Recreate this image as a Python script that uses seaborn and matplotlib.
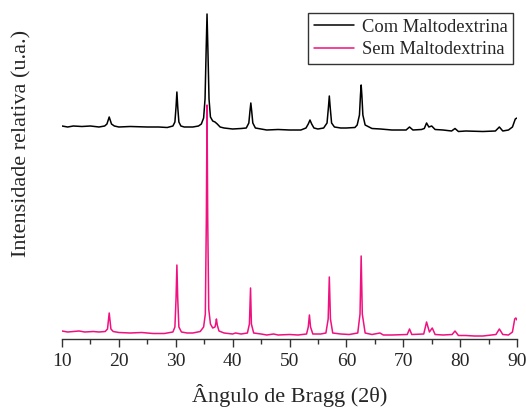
"""XRD patterns: with and without maltodextrin."""

import matplotlib
matplotlib.use('Agg')
import matplotlib.pyplot as plt
import seaborn as sns
from matplotlib.ticker import MultipleLocator

sns.set_theme(style="ticks")
plt.rcParams['font.family'] = ['Liberation Serif', 'DejaVu Serif']

# Com Maltodextrina (upper trace): 2theta and relative intensity (u.a.)
com_x = [10.0, 11.0, 12.0, 13.5, 15.0, 16.5, 17.5, 17.9, 18.3, 18.7, 19.2, 20.0,
         22.0, 25.0, 27.0, 28.5, 29.5, 29.85, 30.05, 30.2, 30.35, 30.55, 30.9, 31.5,
         33.0, 34.0, 34.5, 34.9, 35.15, 35.35, 35.5, 35.65, 35.85, 36.1, 36.5, 36.9,
         37.3, 37.8, 38.5, 40.0, 41.5, 42.4, 42.85, 43.05, 43.2, 43.35, 43.55, 44.0,
         45.0, 46.0, 48.0, 50.0, 52.0, 52.9, 53.3, 53.6, 53.9, 54.3, 55.0, 56.0,
         56.6, 56.85, 57.0, 57.15, 57.4, 57.9, 59.0, 60.0, 61.5, 61.9, 62.3, 62.48,
         62.6, 62.72, 62.9, 63.3, 64.5, 66.0, 68.0, 70.5, 71.1, 71.7, 73.2, 73.7,
         74.1, 74.5, 75.0, 75.6, 77.0, 78.5, 79.1, 79.7, 81.0, 84.0, 86.2, 86.9,
         87.5, 88.5, 89.2, 89.7, 90.0]
com_y = [213, 212, 213, 212.5, 213, 212, 213, 215, 222, 215, 213, 212,
         212.5, 212, 212, 211.5, 213, 217, 232, 247, 232, 217, 213, 212,
         212, 213, 215, 221, 240, 290, 325, 290, 240, 222, 218, 217,
         215, 212, 211, 210, 210.5, 211, 216, 228, 236, 228, 216, 211,
         210, 209, 209.5, 209, 209, 211, 215, 219, 215, 211, 210, 211,
         216, 232, 243, 232, 216, 212, 211, 211, 211.5, 214, 224, 244,
         254, 244, 224, 214, 210.5, 210, 209, 209, 212, 209, 209.5, 210.5,
         216, 212, 213, 209.5, 209, 208, 210.5, 207.5, 208, 207.5, 208, 212,
         208, 209, 212, 220, 221]

# Sem Maltodextrina (lower trace)
sem_x = [10.0, 11.0, 12.0, 13.0, 14.0, 15.5, 16.5, 17.6, 18.0, 18.15, 18.3, 18.45,
         18.6, 19.0, 20.0, 22.0, 24.0, 26.0, 28.0, 29.5, 29.85, 30.05, 30.2, 30.35,
         30.55, 31.0, 32.0, 33.0, 34.3, 34.9, 35.2, 35.38, 35.5, 35.62, 35.8, 36.1,
         36.5, 36.9, 37.05, 37.15, 37.3, 37.6, 38.5, 40.0, 40.5, 41.5, 42.6, 42.95,
         43.15, 43.3, 43.7, 45.0, 46.0, 47.2, 48.0, 50.0, 51.5, 53.0, 53.3, 53.5,
         53.7, 54.1, 55.5, 56.4, 56.8, 57.0, 57.2, 57.6, 59.0, 60.5, 62.0, 62.4,
         62.6, 62.8, 63.3, 64.5, 65.9, 66.5, 68.0, 70.7, 71.1, 71.5, 73.6, 74.1,
         74.6, 75.1, 75.6, 77.0, 78.6, 79.1, 79.7, 81.0, 82.5, 84.0, 86.3, 86.9,
         87.5, 88.5, 89.2, 89.6, 89.8, 90.0]
sem_y = [8, 7, 7.5, 8, 7, 7.5, 7, 7.5, 10, 18, 26, 18,
         10, 7.5, 6.5, 6, 6.5, 5.5, 5.5, 7, 12, 40, 74, 40,
         12, 7, 6, 6, 7.5, 12, 25, 120, 234, 120, 30, 15,
         11, 12, 16, 20, 14, 8, 6, 5, 6, 5, 6, 15,
         51, 15, 6, 5, 4, 5, 4, 4.5, 4, 5, 12, 24,
         12, 5, 5, 6, 20, 62, 20, 6, 5, 4.5, 6, 25,
         83, 25, 6, 4.5, 6, 4, 4, 4.5, 10, 4.5, 5, 17,
         7, 11, 4.5, 4, 4.5, 8, 3.5, 3.5, 3, 3, 4.5, 10,
         4.5, 4, 7, 20, 21, 19]

x_ticks = [10, 20, 30, 40, 50, 60, 70, 80, 90]

fig = plt.figure(figsize=(5.26, 4.08), dpi=100)
ax = fig.add_axes([62 / 526, 1 - 339 / 408, 455 / 526, 330 / 408])

sns.lineplot(x=com_x, y=com_y, ax=ax, color="black", linewidth=1.1,
             label="Com Maltodextrina", sort=False)
sns.lineplot(x=sem_x, y=sem_y, ax=ax, color="#F0107F", linewidth=1.1,
             label="Sem Maltodextrina", sort=False)

ax.set_xlim(10, 90)
ax.set_ylim(0, 330)
ax.set_xticks(x_ticks)
ax.xaxis.set_minor_locator(MultipleLocator(5))
ax.tick_params(axis="x", which="major", length=6, width=1, labelsize=14, pad=4,
               direction="out", color="#333333")
ax.tick_params(axis="x", which="minor", length=3.5, width=1, direction="out", color="#333333")
ax.set_yticks([])
for side in ["top", "right", "left"]:
    ax.spines[side].set_visible(False)
ax.spines["bottom"].set_color("#333333")
ax.spines["bottom"].set_linewidth(1)

ax.set_xlabel("Ângulo de Bragg (2θ)", fontsize=16, labelpad=10)
ax.set_ylabel("Intensidade relativa (u.a.)", fontsize=16)
ax.yaxis.set_label_coords(-0.066, 0.592)

leg = ax.legend(loc="upper right", bbox_to_anchor=(0.991, 0.988), fontsize=13.3, frameon=True,
                fancybox=False, edgecolor="black", handlelength=2.2, handletextpad=0.4,
                borderpad=0.3, labelspacing=0.32, borderaxespad=0.0)
leg.get_frame().set_linewidth(1)

fig.savefig("out.png", dpi=100)
